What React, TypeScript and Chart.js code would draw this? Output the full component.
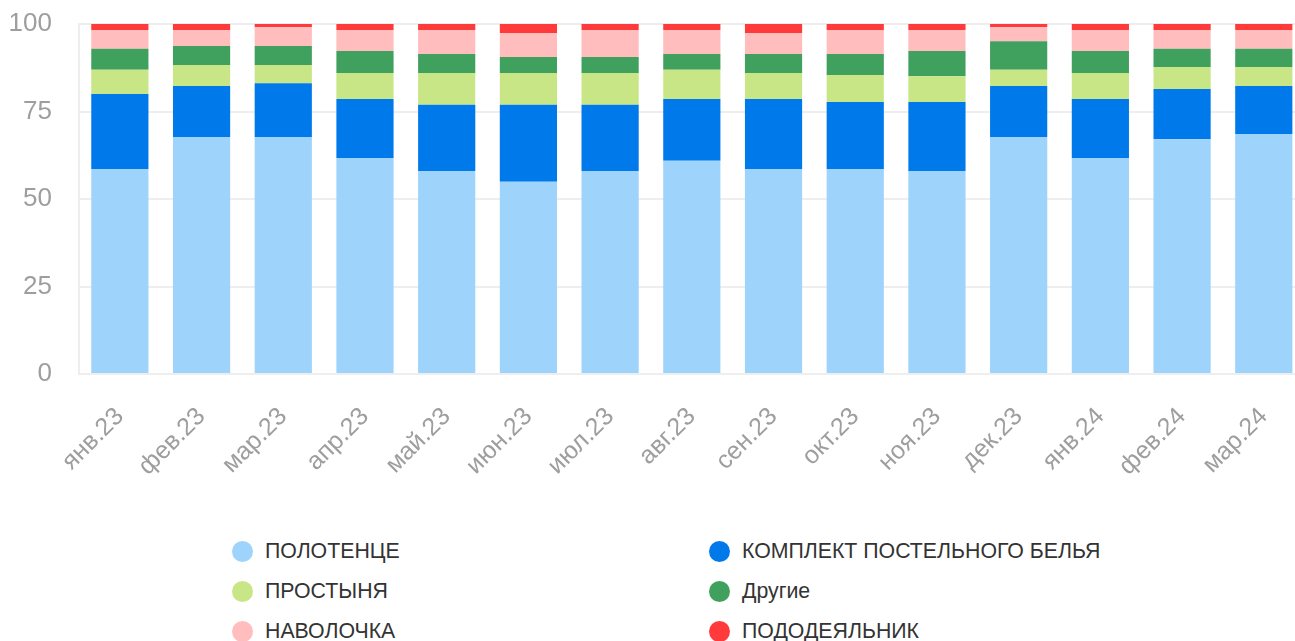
import React, { useEffect, useRef } from 'react';
import { Chart, registerables } from 'chart.js';

Chart.register(...registerables);

const categories = ['янв.23', 'фев.23', 'мар.23', 'апр.23', 'май.23', 'июн.23', 'июл.23', 'авг.23', 'сен.23', 'окт.23', 'ноя.23', 'дек.23', 'янв.24', 'фев.24', 'мар.24'];
const seriesNames = ['ПОЛОТЕНЦЕ', 'КОМПЛЕКТ ПОСТЕЛЬНОГО БЕЛЬЯ', 'ПРОСТЫНЯ', 'Другие', 'НАВОЛОЧКА', 'ПОДОДЕЯЛЬНИК'];
const seriesColors = ['#9ED3FC', '#007AEA', '#C9E686', '#40A15E', '#FFBDBE', '#FF3A3A'];

const polotence = [58.6, 67.7, 67.7, 61.7, 58.0, 54.9, 58.0, 60.9, 58.6, 58.6, 58.0, 67.7, 61.7, 67.1, 68.6];
const komplekt = [21.4, 14.6, 15.4, 16.9, 18.9, 22.0, 18.9, 17.7, 20.0, 19.1, 19.7, 14.6, 16.9, 14.3, 13.7];
const prostynya = [6.9, 6.0, 5.2, 7.4, 9.1, 9.1, 9.1, 8.3, 7.4, 7.7, 7.4, 4.6, 7.4, 6.3, 5.4];
const drugie = [6.0, 5.4, 5.4, 6.3, 5.4, 4.6, 4.6, 4.5, 5.4, 6.0, 7.2, 8.2, 6.3, 5.2, 5.2];
const navolochka = [5.4, 4.6, 5.4, 6.0, 6.9, 6.8, 7.7, 6.9, 6.0, 6.9, 6.0, 4.0, 6.0, 5.4, 5.4];
const pododeyalnik = [1.7, 1.7, 0.9, 1.7, 1.7, 2.6, 1.7, 1.7, 2.6, 1.7, 1.7, 0.9, 1.7, 1.7, 1.7];

const yTicks = [0, 25, 50, 75, 100];

const seriesValues = [polotence, komplekt, prostynya, drugie, navolochka, pododeyalnik];

const FONT = '"Liberation Sans", Arial, Helvetica, sans-serif';

export default function App() {
  const canvasRef = useRef<HTMLCanvasElement | null>(null);

  useEffect(() => {
    if (!canvasRef.current) return;
    const chart = new Chart(canvasRef.current, {
      type: 'bar',
      data: {
        labels: categories,
        datasets: seriesNames.map((name, i) => ({
          label: name,
          data: seriesValues[i],
          backgroundColor: seriesColors[i],
          borderWidth: 0,
          barPercentage: 0.7,
          categoryPercentage: 1,
        })),
      },
      options: {
        animation: false,
        responsive: false,
        layout: { padding: { top: 24, left: 0, right: 0, bottom: 0 } },
        plugins: {
          legend: { display: false },
          tooltip: { enabled: false },
        },
        scales: {
          x: {
            stacked: true,
            grid: { display: false },
            border: { display: true, color: '#eeeeee', width: 2 },
            ticks: {
              color: '#9e9e9e',
              font: { family: FONT, size: 25 },
              minRotation: 45,
              maxRotation: 45,
              autoSkip: false,
              padding: 20,
            },
            afterFit: (s: any) => {
              s.height = 116;
            },
          },
          y: {
            stacked: true,
            min: 0,
            max: 100,
            afterBuildTicks: (s: any) => {
              s.ticks = yTicks.map((v) => ({ value: v }));
            },
            grid: {
              color: '#eeeeee',
              lineWidth: 2,
              drawTicks: true,
              tickLength: 24,
              tickColor: 'rgba(0,0,0,0)',
            },
            border: { display: true, color: '#eeeeee', width: 2 },
            ticks: {
              color: '#9e9e9e',
              font: { family: FONT, size: 26 },
              padding: 3,
            },
            afterFit: (s: any) => {
              s.width = 79;
            },
          },
        },
      },
    });
    return () => chart.destroy();
  }, []);

  const legendCols = [232, 709];
  const legendRows = [551, 591, 631];

  return (
    <div style={{ position: 'fixed', top: 0, left: 0, width: 1295, height: 641, overflow: 'hidden', background: '#fff' }}>
      <canvas
        ref={canvasRef}
        width={1305}
        height={490}
        style={{ position: 'absolute', top: 0, left: 0, width: 1305, height: 490 }}
      />
      {seriesNames.map((name, i) => {
        const col = i % 2;
        const row = Math.floor(i / 2);
        return (
          <div
            key={name}
            style={{
              position: 'absolute',
              left: legendCols[col],
              top: legendRows[row] - 20,
              height: 40,
              display: 'flex',
              alignItems: 'center',
              fontFamily: FONT,
              fontSize: 21.3,
              color: '#333',
              whiteSpace: 'nowrap',
            }}
          >
            <span
              style={{
                display: 'inline-block',
                width: 21,
                height: 21,
                borderRadius: '50%',
                background: seriesColors[i],
                marginRight: 12,
              }}
            />
            <span>{name}</span>
          </div>
        );
      })}
    </div>
  );
}
